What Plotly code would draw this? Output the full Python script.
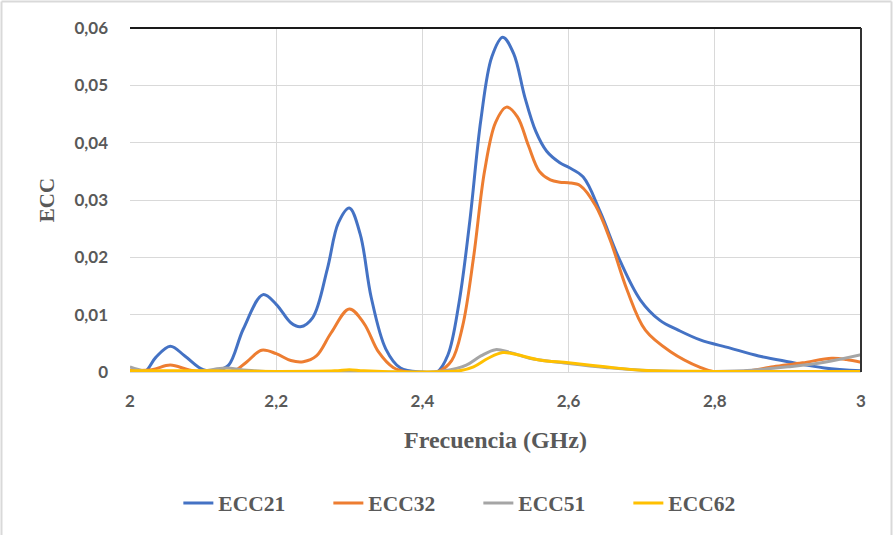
import plotly.graph_objects as go

# Envelope correlation coefficient vs. frequency for each antenna pair
freq_21 = [2.00, 2.02, 2.035, 2.055, 2.075, 2.10, 2.12, 2.135, 2.155, 2.182, 2.20, 2.22, 2.233,
           2.25, 2.27, 2.285, 2.30, 2.315, 2.33, 2.35, 2.37, 2.40, 2.42, 2.435, 2.45, 2.465,
           2.48, 2.495, 2.51, 2.525, 2.54, 2.555, 2.57, 2.588, 2.60, 2.62, 2.643, 2.67, 2.698,
           2.725, 2.75, 2.78, 2.82, 2.86, 2.90, 2.95, 3.00]
ecc_21 = [0.0003, 0.0, 0.0025, 0.0045, 0.0028, 0.0004, 0.0003, 0.0012, 0.0075, 0.0135, 0.0118,
          0.0086, 0.0079, 0.0095, 0.018, 0.026, 0.0286, 0.024, 0.013, 0.004, 0.0007, 0.0, 0.0,
          0.003, 0.012, 0.0265, 0.044, 0.055, 0.0584, 0.0555, 0.048, 0.042, 0.0385, 0.0365,
          0.0357, 0.034, 0.028, 0.0195, 0.0126, 0.009, 0.0073, 0.0056, 0.0042, 0.0028, 0.0018,
          0.0007, 0.0002]

freq_32 = [2.00, 2.03, 2.055, 2.08, 2.10, 2.14, 2.16, 2.18, 2.20, 2.22, 2.237, 2.255, 2.275,
           2.30, 2.32, 2.34, 2.36, 2.38, 2.42, 2.44, 2.455, 2.47, 2.485, 2.50, 2.515, 2.53,
           2.545, 2.56, 2.575, 2.588, 2.60, 2.616, 2.637, 2.657, 2.68, 2.705, 2.74, 2.78, 2.80,
           2.84, 2.88, 2.92, 2.96, 2.98, 3.00]
ecc_32 = [0.0003, 0.0004, 0.0012, 0.0004, 0.0, 0.0, 0.0018, 0.0038, 0.0032, 0.002, 0.0018,
          0.0028, 0.0068, 0.011, 0.0085, 0.0035, 0.0008, 0.0, 0.0, 0.002, 0.008, 0.02, 0.035,
          0.0435, 0.0462, 0.0445, 0.0395, 0.035, 0.0335, 0.0331, 0.033, 0.0325, 0.029, 0.023,
          0.0143, 0.0073, 0.0035, 0.0008, 0.0, 0.0001, 0.0009, 0.0016, 0.0024, 0.0022, 0.0017]

freq_51 = [2.00, 2.02, 2.05, 2.10, 2.13, 2.16, 2.20, 2.30, 2.40, 2.43, 2.46, 2.48, 2.50, 2.52,
           2.55, 2.60, 2.65, 2.70, 2.80, 2.85, 2.90, 2.95, 3.00]
ecc_51 = [0.0009, 0.0002, 0.0, 0.0002, 0.0007, 0.0003, 0.0, 0.0, 0.0, 0.0002, 0.0012, 0.0028,
          0.0039, 0.0034, 0.0023, 0.0015, 0.0008, 0.0003, 0.0001, 0.0003, 0.0009, 0.0017, 0.003]

freq_62 = [2.00, 2.10, 2.20, 2.28, 2.30, 2.32, 2.40, 2.45, 2.47, 2.49, 2.51, 2.53, 2.56, 2.60,
           2.65, 2.70, 2.80, 2.90, 3.00]
ecc_62 = [0.0002, 0.0002, 0.0001, 0.0002, 0.0004, 0.0002, 0.0, 0.0002, 0.0009, 0.0024, 0.0034,
          0.003, 0.0021, 0.0016, 0.0009, 0.0003, 0.0001, 0.0001, 0.0001]

series = [
    ("ECC21", freq_21, ecc_21, "#4472C4"),
    ("ECC32", freq_32, ecc_32, "#ED7D31"),
    ("ECC51", freq_51, ecc_51, "#A5A5A5"),
    ("ECC62", freq_62, ecc_62, "#FFC000"),
]

x_ticks = [2, 2.2, 2.4, 2.6, 2.8, 3]
y_ticks = [0, 0.01, 0.02, 0.03, 0.04, 0.05, 0.06]

fig = go.Figure()
for name, xs, ys, color in series:
    fig.add_trace(go.Scatter(
        x=xs, y=ys, name=f"<b>{name}</b>", mode="lines",
        line=dict(color=color, width=3, shape="spline", smoothing=1.0),
    ))

SERIF = "Times New Roman, Liberation Serif, serif"
GREY = "#595959"
tick_font = dict(family="Lato", size=17, color=GREY, weight="bold")

fig.update_layout(
    width=894, height=535,
    margin=dict(l=130, r=33, t=28, b=163),
    paper_bgcolor="white", plot_bgcolor="white",
    separators=", ",
    showlegend=True,
    legend=dict(
        orientation="h", xref="container", yref="container",
        x=0.1995, xanchor="left", y=0.060, yanchor="middle",
        font=dict(family=SERIF, size=21.5, color=GREY),
        entrywidth=105, entrywidthmode="pixels",
    ),
    xaxis=dict(
        range=[2, 3], tickvals=x_ticks, tickfont=tick_font,
        showgrid=True, gridcolor="#D9D9D9", gridwidth=1,
        showline=True, linecolor="#D9D9D9", linewidth=1,
        zeroline=False, ticks="", ticklabelstandoff=14,
        title=dict(text="<b>Frecuencia (GHz)</b>", font=dict(family=SERIF, size=24, color=GREY),
                   standoff=20),
    ),
    yaxis=dict(
        range=[0, 0.06], tickvals=y_ticks, tickfont=tick_font,
        showgrid=True, gridcolor="#D9D9D9", gridwidth=1,
        zeroline=False, ticks="", ticklabelstandoff=21,
        title=dict(text="<b>ECC</b>", font=dict(family=SERIF, size=21, color=GREY), standoff=14),
    ),
    shapes=[
        # plot frame: dark top and right edges
        dict(type="line", xref="paper", yref="paper", x0=0, x1=1, y0=1, y1=1,
             line=dict(color="#1A1A1A", width=2)),
        dict(type="line", xref="paper", yref="paper", x0=1, x1=1, y0=0, y1=1,
             line=dict(color="#333333", width=2)),
        # light outer chart border
        dict(type="line", xref="paper", yref="paper",
             x0=(1.5 - 130) / 731, x1=(1.5 - 130) / 731,
             y0=(372 - 540) / 344, y1=(372 - 1.5) / 344,
             line=dict(color="#D9D9D9", width=2)),
        dict(type="line", xref="paper", yref="paper",
             x0=(1.5 - 130) / 731, x1=(891.5 - 130) / 731,
             y0=(372 - 1.5) / 344, y1=(372 - 1.5) / 344,
             line=dict(color="#D9D9D9", width=2)),
        dict(type="line", xref="paper", yref="paper",
             x0=(891.5 - 130) / 731, x1=(891.5 - 130) / 731,
             y0=(372 - 540) / 344, y1=(372 - 1.5) / 344,
             line=dict(color="#D9D9D9", width=2)),
    ],
)

fig.write_html("out.html")
